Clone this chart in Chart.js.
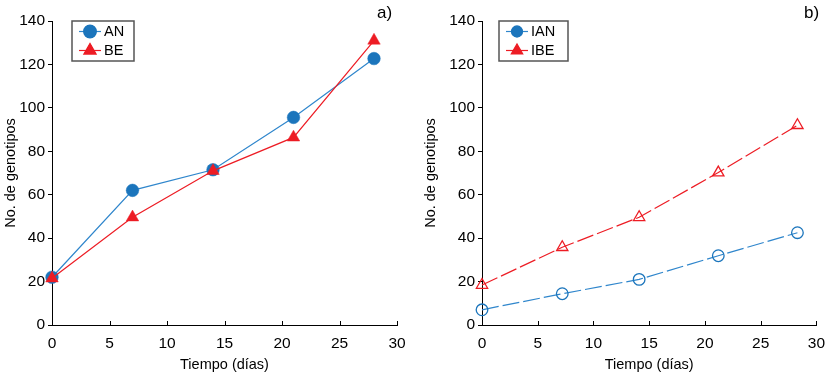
<!DOCTYPE html>
<html>
<head>
<meta charset="utf-8">
<script src="https://cdn.jsdelivr.net/npm/chart.js@4/dist/chart.umd.min.js"></script>
<style>
  html, body { margin: 0; padding: 0; background: #fff; }
  #wrap { position: relative; width: 834px; height: 376px; }
  .pane { position: absolute; top: 0; height: 376px; }
</style>
</head>
<body>
<div id="wrap">
  <div class="pane" style="left:0;width:417px"><canvas id="ca"></canvas></div>
  <div class="pane" style="left:420px;width:414px"><canvas id="cb"></canvas></div>
</div>
<script>
// ---- data ----
const daysA = [0, 7, 14, 21, 28];
const AN = [22, 62, 71.5, 95.6, 122.7];
const BE = [21.5, 49.6, 71, 86.4, 131];

const daysB = [0, 7.2, 14.1, 21.2, 28.3];
const IAN = [7, 14.4, 21, 31.9, 42.5];
const IBE = [18.4, 35.8, 49.6, 70.2, 92];

const xTicks = [0, 5, 10, 15, 20, 25, 30];
const yTicks = [0, 20, 40, 60, 80, 100, 120, 140];

const BLUE = '#1b75bc';
const BLUE_LINE = '#2f86cc';
const RED = '#ed1c24';
const FONT = 'Liberation Sans, Arial, sans-serif';

function pts(xs, ys) { return xs.map((x, i) => ({ x: x, y: ys[i] })); }

// inward x ticks, panel label, legend box
const decor = {
  id: 'decor',
  afterDraw(chart, args, opts) {
    const ctx = chart.ctx;
    const xs = chart.scales.x;
    const ca = chart.chartArea;
    ctx.save();
    ctx.strokeStyle = '#000';
    ctx.lineWidth = 1;
    xTicks.forEach(v => {
      const px = Math.round(xs.getPixelForValue(v)) + 0.5;
      ctx.beginPath();
      ctx.moveTo(px, ca.bottom);
      ctx.lineTo(px, ca.bottom - 4);
      ctx.stroke();
    });
    // panel label
    ctx.fillStyle = '#000';
    ctx.font = '17px ' + FONT;
    ctx.textAlign = 'left';
    ctx.textBaseline = 'middle';
    ctx.fillText(opts.label, opts.labelX, 13);
    // legend
    const b = opts.box;
    ctx.strokeStyle = '#555';
    ctx.lineWidth = 1.5;
    ctx.strokeRect(b.x, b.y, b.w, b.h);
    opts.items.forEach((it, i) => {
      const cy = b.y + 10.5 + i * 19;
      ctx.save();
      ctx.strokeStyle = it.line;
      ctx.lineWidth = 1.2;
      ctx.beginPath();
      ctx.moveTo(b.x + 7, cy);
      ctx.lineTo(b.x + 29, cy);
      ctx.stroke();
      ctx.restore();
      const mx = b.x + 18;
      ctx.save();
      ctx.lineWidth = 1.3;
      ctx.strokeStyle = it.color;
      ctx.fillStyle = it.color;
      Chart.helpers.drawPoint(ctx, {
        pointStyle: it.style, radius: it.radius, borderWidth: 1.3, rotation: 0
      }, mx, cy);
      if (it.filled) ctx.fill();
      ctx.restore();
      ctx.fillStyle = '#000';
      ctx.font = '14.5px ' + FONT;
      ctx.textBaseline = 'middle';
      ctx.fillText(it.text, b.x + 32, cy + 0.5);
    });
    ctx.restore();
  }
};

function makeChart(id, datasets, yWidth, padRight, decorOpts) {
  return new Chart(document.getElementById(id), {
    type: 'line',
    data: { datasets: datasets },
    plugins: [decor],
    options: {
      responsive: true,
      maintainAspectRatio: false,
      animation: false,
      layout: { padding: { top: 21, right: padRight, left: 0, bottom: 0 } },
      plugins: {
        legend: { display: false },
        tooltip: { enabled: false },
        decor: decorOpts
      },
      scales: {
        x: {
          type: 'linear', min: 0, max: 30,
          afterBuildTicks: s => { s.ticks = xTicks.map(v => ({ value: v })); },
          afterFit: s => { s.height = 51; },
          grid: { display: false, drawTicks: false },
          border: { display: true, color: '#000', width: 1 },
          ticks: { color: '#000', padding: 9, font: { family: FONT, size: 15.5 } },
          title: { display: true, text: 'Tiempo (días)', color: '#000',
                   padding: { top: 0, bottom: 2 }, font: { family: FONT, size: 14.5 } }
        },
        y: {
          type: 'linear', min: 0, max: 140,
          afterBuildTicks: s => { s.ticks = yTicks.map(v => ({ value: v })); },
          afterFit: s => { s.width = yWidth; },
          grid: { display: true, drawOnChartArea: false, drawTicks: true, tickLength: 4, color: '#000' },
          border: { display: true, color: '#000', width: 1 },
          ticks: { color: '#000', padding: 3, font: { family: FONT, size: 15.5 } },
          title: { display: true, text: 'No. de genotipos', color: '#000',
                   padding: { top: 2, bottom: 0 }, font: { family: FONT, size: 14.5 } }
        }
      }
    }
  });
}

makeChart('ca', [
  { label: 'AN', data: pts(daysA, AN), borderColor: BLUE_LINE, borderWidth: 1.2,
    pointStyle: 'circle', pointRadius: 6.3, pointBackgroundColor: BLUE, pointBorderColor: BLUE,
    pointBorderWidth: 0.5, clip: false, order: 1 },
  { label: 'BE', data: pts(daysA, BE), borderColor: RED, borderWidth: 1.2,
    pointStyle: 'triangle', pointRadius: 7.2, pointBackgroundColor: RED, pointBorderColor: RED,
    pointBorderWidth: 0.5, clip: false, order: 0 }
], 52, 20, {
  label: 'a)', labelX: 377,
  box: { x: 72, y: 21, w: 62, h: 40 },
  items: [
    { text: 'AN', color: BLUE, line: BLUE_LINE, style: 'circle', radius: 6.3, filled: true },
    { text: 'BE', color: RED, line: RED, style: 'triangle', radius: 7, filled: true }
  ]
});

makeChart('cb', [
  { label: 'IAN', data: pts(daysB, IAN), borderColor: BLUE_LINE, borderWidth: 1.2, borderDash: [17, 4],
    pointStyle: 'circle', pointRadius: 5.8, pointBackgroundColor: 'rgba(0,0,0,0)', pointBorderColor: BLUE,
    pointBorderWidth: 1.3, clip: false, order: 1 },
  { label: 'IBE', data: pts(daysB, IBE), borderColor: RED, borderWidth: 1.2, borderDash: [17, 4],
    pointStyle: 'triangle', pointRadius: 6.5, pointBackgroundColor: 'rgba(0,0,0,0)', pointBorderColor: RED,
    pointBorderWidth: 1.3, clip: false, order: 0 }
], 62, 8, {
  label: 'b)', labelX: 384,
  box: { x: 79, y: 21, w: 69, h: 40 },
  items: [
    { text: 'IAN', color: BLUE, line: BLUE_LINE, style: 'circle', radius: 5.5, filled: false },
    { text: 'IBE', color: RED, line: RED, style: 'triangle', radius: 6.5, filled: false }
  ]
});
</script>
</body>
</html>
